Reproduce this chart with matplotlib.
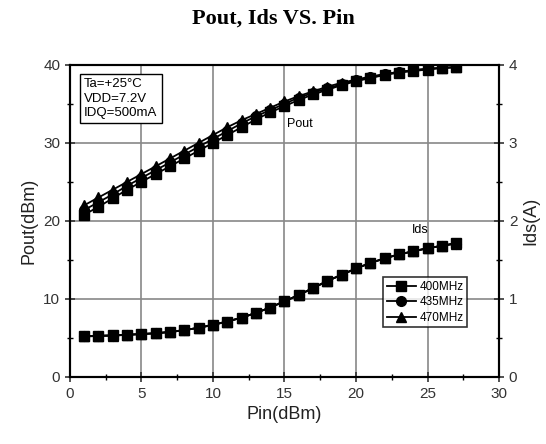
import matplotlib.pyplot as plt
import numpy as np

pin = list(range(1, 28))

pout_400 = [20.8, 21.8, 22.9, 24.0, 25.0, 26.0, 27.0, 28.0, 29.0, 30.0, 31.0, 32.0, 33.0,
            33.9, 34.7, 35.5, 36.2, 36.8, 37.4, 37.9, 38.3, 38.7, 39.0, 39.2, 39.4, 39.6, 39.7]
pout_435 = [21.4, 22.4, 23.4, 24.5, 25.5, 26.5, 27.5, 28.5, 29.5, 30.5, 31.5, 32.5, 33.4,
            34.2, 35.0, 35.8, 36.4, 37.0, 37.5, 38.0, 38.4, 38.8, 39.1, 39.3, 39.5, 39.6, 39.7]
pout_470 = [22.0, 23.0, 24.0, 25.0, 26.0, 27.0, 28.0, 29.0, 30.0, 31.0, 32.0, 32.9, 33.7,
            34.5, 35.3, 36.0, 36.6, 37.2, 37.7, 38.1, 38.5, 38.8, 39.1, 39.3, 39.5, 39.6, 39.7]

ids_400 = [0.52, 0.53, 0.535, 0.54, 0.55, 0.56, 0.58, 0.60, 0.63, 0.67, 0.71, 0.76, 0.82,
           0.89, 0.97, 1.05, 1.14, 1.23, 1.31, 1.39, 1.46, 1.52, 1.57, 1.61, 1.65, 1.68, 1.72]
ids_435 = [0.52, 0.525, 0.53, 0.54, 0.55, 0.56, 0.575, 0.60, 0.63, 0.665, 0.71, 0.76, 0.82,
           0.89, 0.97, 1.05, 1.14, 1.23, 1.31, 1.39, 1.46, 1.52, 1.57, 1.61, 1.65, 1.68, 1.71]
ids_470 = [0.52, 0.525, 0.53, 0.54, 0.55, 0.56, 0.575, 0.60, 0.63, 0.67, 0.71, 0.76, 0.82,
           0.89, 0.97, 1.05, 1.14, 1.23, 1.31, 1.39, 1.46, 1.52, 1.57, 1.61, 1.65, 1.68, 1.71]

labels = ['400MHz', '435MHz', '470MHz']
markers = ['s', 'o', '^']

plt.rcParams['font.family'] = ['Liberation Sans', 'DejaVu Sans']

fig = plt.figure(figsize=(5.46, 4.44), dpi=100)
ax = fig.add_axes([0.128, 0.151, 0.786, 0.703])
ax2 = ax.twinx()

for p, m, l in zip([pout_400, pout_435, pout_470], markers, labels):
    ax.plot(pin, p, color='black', marker=m, markersize=7, linewidth=1.3, label=l)
for i, m in zip([ids_400, ids_435, ids_470], markers):
    ax2.plot(pin, i, color='black', marker=m, markersize=7, linewidth=1.3)

ax.set_xlim(0, 30)
ax.set_ylim(0, 40)
ax2.set_ylim(0, 4)
ax.set_xticks(np.arange(0, 31, 5))
ax.set_xticks(np.arange(0, 31, 2.5), minor=True)
ax.set_yticks(np.arange(0, 41, 10))
ax.set_yticks(np.arange(0, 41, 5), minor=True)
ax2.set_yticks(np.arange(0, 5, 1))
ax2.set_yticks(np.arange(0, 4.1, 0.5), minor=True)

ax.grid(True, which='major', color='#888888', linewidth=1.2)
for a in (ax, ax2):
    a.tick_params(which='major', direction='inout', length=7, width=1.2, labelsize=11, colors='#333333')
    a.tick_params(which='minor', direction='inout', length=4, width=1.0)
    for s in a.spines.values():
        s.set_linewidth(1.5)

ax.set_xlabel('Pin(dBm)', fontsize=13, color='#222222')
ax.set_ylabel('Pout(dBm)', fontsize=13, color='#222222', labelpad=4)
ax2.set_ylabel('Ids(A)', fontsize=13, color='#222222', labelpad=4)

ax.text(1.0, 38.3, 'Ta=+25\u00b0C\nVDD=7.2V\nIDQ=500mA', fontsize=9.5, va='top', ha='left',
        linespacing=1.3, bbox=dict(facecolor='white', edgecolor='black', boxstyle='square,pad=0.3'))
ax.text(15.2, 32, 'Pout', fontsize=9)
ax.text(23.9, 18.4, 'Ids', fontsize=9)

leg = ax.legend(loc='lower right', bbox_to_anchor=(0.94, 0.14), fontsize=8.5, frameon=True,
                fancybox=False, edgecolor='black', handlelength=2.5, borderpad=0.3,
                labelspacing=0.3, handletextpad=0.3)
leg.get_frame().set_linewidth(1.2)

fig.suptitle('Pout, Ids VS. Pin', fontsize=16, fontweight='bold', family='Liberation Serif', y=0.98)

fig.savefig('out.png', dpi=100)
